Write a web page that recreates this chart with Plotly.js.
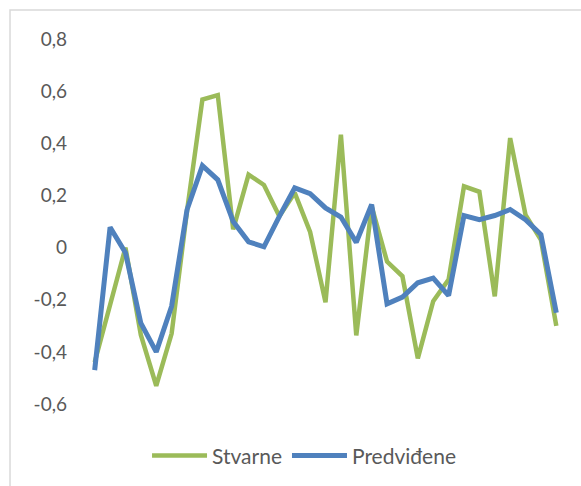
<!DOCTYPE html>
<html>
<head>
<meta charset="utf-8">
<script src="https://cdn.plot.ly/plotly-3.0.1.min.js"></script>
<style>
  html, body { margin: 0; padding: 0; background: #fff; }
  #chart { width: 581px; height: 486px; }
</style>
</head>
<body>
<div id="chart"></div>
<script>
// period index (no labels shown on the axis)
const periods = [1, 2, 3, 4, 5, 6, 7, 8, 9, 10, 11, 12, 13, 14, 15, 16,
                 17, 18, 19, 20, 21, 22, 23, 24, 25, 26, 27, 28, 29, 30, 31];

const stvarne = [-0.44, -0.22, 0.0, -0.335, -0.53, -0.33, 0.14, 0.568, 0.585, 0.07,
                 0.28, 0.24, 0.12, 0.21, 0.06, -0.21, 0.433, -0.337, 0.158, -0.054,
                 -0.11, -0.425, -0.206, -0.123, 0.235, 0.214, -0.187, 0.42, 0.125, 0.03, -0.30];

const predvidene = [-0.47, 0.078, -0.02, -0.29, -0.40, -0.225, 0.145, 0.314, 0.26, 0.10,
                    0.022, 0.003, 0.12, 0.229, 0.207, 0.152, 0.117, 0.02, 0.165, -0.216,
                    -0.19, -0.135, -0.117, -0.184, 0.123, 0.107, 0.123, 0.146, 0.107, 0.05, -0.25];

const yTickVals = [-0.6, -0.4, -0.2, 0, 0.2, 0.4, 0.6, 0.8];
const yTickText = ['-0,6', '-0,4', '-0,2', '0', '0,2', '0,4', '0,6', '0,8'];

const traces = [
    {
        x: periods,
        y: stvarne,
        type: 'scatter',
        mode: 'lines',
        name: 'Stvarne',
        line: { color: '#9BBB59', width: 4.5 },
        hoverinfo: 'skip'
    },
    {
        x: periods,
        y: predvidene,
        type: 'scatter',
        mode: 'lines',
        name: 'Predviđene',
        line: { color: '#4F81BD', width: 5 },
        hoverinfo: 'skip'
    }
];

const layout = {
    width: 581,
    height: 486,
    margin: { l: 87, r: 17, t: 39, b: 82, autoexpand: false },
    paper_bgcolor: '#ffffff',
    plot_bgcolor: '#ffffff',
    font: { family: 'Lato, "Open Sans", sans-serif', size: 19, color: '#595959' },
    xaxis: {
        range: [0.5, 31.5],
        showgrid: false,
        zeroline: false,
        showline: false,
        showticklabels: false,
        ticks: ''
    },
    yaxis: {
        range: [-0.6, 0.8],
        tickvals: yTickVals,
        ticktext: yTickText,
        showgrid: false,
        zeroline: false,
        showline: false,
        ticks: '',
        ticklabelstandoff: 19
    },
    showlegend: true,
    legend: {
        orientation: 'h',
        x: 0.455,
        xanchor: 'center',
        y: -0.142,
        yanchor: 'middle',
        itemwidth: 55,
        font: { size: 21, color: '#595959' }
    },
    shapes: [
        // chart area border (cut off by the picture on the right and bottom)
        {
            type: 'rect', xref: 'paper', yref: 'paper',
            x0: -0.1614, x1: 1.3, y0: -0.4, y1: 1.0795,
            line: { color: '#d9d9d9', width: 1.5 },
            layer: 'below'
        }
    ]
};

Plotly.newPlot('chart', traces, layout, { staticPlot: true });
</script>
</body>
</html>
